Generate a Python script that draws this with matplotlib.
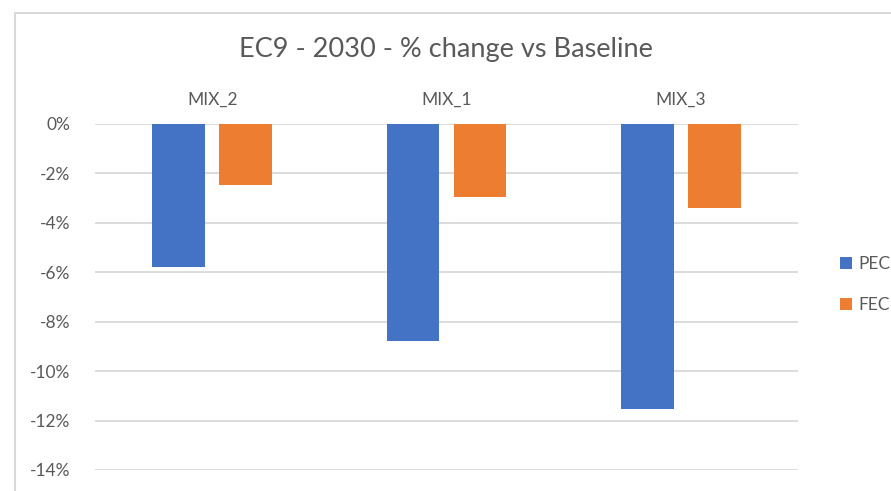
import numpy as np
import matplotlib.pyplot as plt
from matplotlib.lines import Line2D
from matplotlib.ticker import FuncFormatter

plt.rcParams['font.family'] = ['Lato', 'DejaVu Sans']

# % change vs baseline, 2030
scenarios = ["MIX_2", "MIX_1", "MIX_3"]
pec = [-5.78, -8.79, -11.53]
fec = [-2.48, -2.95, -3.40]

grey = "#595959"
grid = "#d9d9d9"

fig = plt.figure(figsize=(8.91, 4.91), dpi=100)
ax = fig.add_axes([0.1066, 0.0428, 0.789, 0.7047])

x = np.arange(len(scenarios))
w = 0.224
ax.bar(x - 0.143, pec, w, color="#4472c4", label="PEC", zorder=3)
ax.bar(x + 0.143, fec, w, color="#ed7d31", label="FEC", zorder=3)

ax.set_xlim(-0.5, len(scenarios) - 0.5)
ax.set_ylim(-14, 0)
ax.set_yticks(np.arange(-14, 1, 2))
ax.yaxis.set_major_formatter(FuncFormatter(lambda v, p: f"{v:.0f}%"))
ax.yaxis.grid(True, color=grid, linewidth=1.3, zorder=0)

# category labels sit above the zero line
ax.xaxis.tick_top()
ax.set_xticks(x)
ax.set_xticklabels(scenarios)
ax.tick_params(axis="x", length=0, pad=12, labelsize=12.5, colors=grey)
ax.tick_params(axis="y", length=0, pad=18, labelsize=12.5, colors=grey)
for s in ax.spines.values():
    s.set_visible(False)

fig.text(0.5, 0.900, "EC9 - 2030 - % change vs Baseline", ha="center",
         va="center", fontsize=19.5, color=grey)

fig.legend(loc="center left", bbox_to_anchor=(0.925, 0.42), frameon=False,
           fontsize=12.5, labelcolor=grey, handlelength=0.7, handleheight=0.7,
           handletextpad=0.35, labelspacing=1.45)

# chart area border (left and top edges)
fig.add_artist(Line2D([15 / 891, 15 / 891], [0, 1 - 13 / 491],
                      transform=fig.transFigure, color=grid, lw=1.5))
fig.add_artist(Line2D([15 / 891, 1], [1 - 13 / 491, 1 - 13 / 491],
                      transform=fig.transFigure, color=grid, lw=1.5))

fig.savefig("out.png", dpi=100)
